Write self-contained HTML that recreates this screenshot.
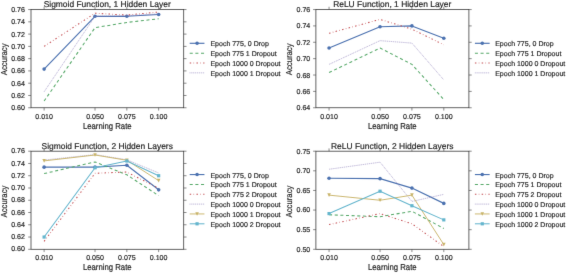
<!DOCTYPE html>
<html><head><meta charset="utf-8"><title>Accuracy vs Learning Rate</title>
<style>html,body{margin:0;padding:0;background:#fff;}svg{display:block;}text{stroke:#262626;stroke-width:0.18px;}</style></head>
<body>
<svg width="567" height="273" viewBox="0 0 567 273" font-family='"Liberation Sans", sans-serif' fill="#262626" style="text-rendering:geometricPrecision">
<rect width="567" height="273" fill="#fff"/>
<defs><filter id="soft" filterUnits="userSpaceOnUse" x="0" y="0" width="567" height="273" color-interpolation-filters="sRGB"><feConvolveMatrix order="3" kernelMatrix="0.0052 0.0619 0.0052 0.0619 0.7314 0.0619 0.0052 0.0619 0.0052" divisor="1" edgeMode="none" preserveAlpha="false"/></filter></defs>
<g filter="url(#soft)"><polyline points="44.12,69.08 95.03,16.30 126.84,16.30 158.65,14.46" fill="none" stroke="#4C72B0" stroke-width="1.15" stroke-linejoin="round"/>
<circle cx="44.12" cy="69.08" r="1.80" fill="#4C72B0"/>
<circle cx="95.03" cy="16.30" r="1.80" fill="#4C72B0"/>
<circle cx="126.84" cy="16.30" r="1.80" fill="#4C72B0"/>
<circle cx="158.65" cy="14.46" r="1.80" fill="#4C72B0"/>
<polyline points="44.12,101.00 95.03,27.66 126.84,22.44 158.65,18.76" fill="none" stroke="#55A868" stroke-width="1.05" stroke-linejoin="round" stroke-dasharray="3.05 2.6"/>
<polyline points="44.12,46.38 95.03,13.23 126.84,15.07 158.65,12.00" fill="none" stroke="#C44E52" stroke-width="1.05" stroke-linejoin="round" stroke-dasharray="1.5 2.35 0.55 2.35"/>
<polyline points="44.12,91.79 95.03,16.30 126.84,15.69 158.65,13.85" fill="none" stroke="#8172B2" stroke-width="0.8" stroke-opacity="0.2" stroke-linejoin="round"/>
<polyline points="44.12,91.79 95.03,16.30 126.84,15.69 158.65,13.85" fill="none" stroke="#8172B2" stroke-width="0.9" stroke-opacity="0.8" stroke-linejoin="round" stroke-dasharray="0.5 1.43"/>
<rect x="31.0" y="9.55" width="152.70" height="98.20" fill="none" stroke="#3c3c3c" stroke-width="0.8"/>
<line x1="44.12" y1="107.75" x2="44.12" y2="110.55" stroke="#3c3c3c" stroke-width="0.6"/>
<line x1="44.12" y1="9.55" x2="44.12" y2="6.750000000000001" stroke="#3c3c3c" stroke-width="0.6"/>
<text x="44.12" y="119.25" font-size="7.05" text-anchor="middle">0.010</text>
<line x1="95.03" y1="107.75" x2="95.03" y2="110.55" stroke="#3c3c3c" stroke-width="0.6"/>
<line x1="95.03" y1="9.55" x2="95.03" y2="6.750000000000001" stroke="#3c3c3c" stroke-width="0.6"/>
<text x="95.03" y="119.25" font-size="7.05" text-anchor="middle">0.050</text>
<line x1="126.84" y1="107.75" x2="126.84" y2="110.55" stroke="#3c3c3c" stroke-width="0.6"/>
<line x1="126.84" y1="9.55" x2="126.84" y2="6.750000000000001" stroke="#3c3c3c" stroke-width="0.6"/>
<text x="126.84" y="119.25" font-size="7.05" text-anchor="middle">0.075</text>
<line x1="158.65" y1="107.75" x2="158.65" y2="110.55" stroke="#3c3c3c" stroke-width="0.6"/>
<line x1="158.65" y1="9.55" x2="158.65" y2="6.750000000000001" stroke="#3c3c3c" stroke-width="0.6"/>
<text x="158.65" y="119.25" font-size="7.05" text-anchor="middle">0.100</text>
<line x1="31.0" y1="107.75" x2="28.2" y2="107.75" stroke="#3c3c3c" stroke-width="0.6"/>
<line x1="183.7" y1="107.75" x2="186.5" y2="107.75" stroke="#3c3c3c" stroke-width="0.6"/>
<text x="24.90" y="110.25" font-size="7.05" text-anchor="end">0.60</text>
<line x1="31.0" y1="95.47" x2="28.2" y2="95.47" stroke="#3c3c3c" stroke-width="0.6"/>
<line x1="183.7" y1="95.47" x2="186.5" y2="95.47" stroke="#3c3c3c" stroke-width="0.6"/>
<text x="24.90" y="97.97" font-size="7.05" text-anchor="end">0.62</text>
<line x1="31.0" y1="83.20" x2="28.2" y2="83.20" stroke="#3c3c3c" stroke-width="0.6"/>
<line x1="183.7" y1="83.20" x2="186.5" y2="83.20" stroke="#3c3c3c" stroke-width="0.6"/>
<text x="24.90" y="85.70" font-size="7.05" text-anchor="end">0.64</text>
<line x1="31.0" y1="70.92" x2="28.2" y2="70.92" stroke="#3c3c3c" stroke-width="0.6"/>
<line x1="183.7" y1="70.92" x2="186.5" y2="70.92" stroke="#3c3c3c" stroke-width="0.6"/>
<text x="24.90" y="73.42" font-size="7.05" text-anchor="end">0.66</text>
<line x1="31.0" y1="58.65" x2="28.2" y2="58.65" stroke="#3c3c3c" stroke-width="0.6"/>
<line x1="183.7" y1="58.65" x2="186.5" y2="58.65" stroke="#3c3c3c" stroke-width="0.6"/>
<text x="24.90" y="61.15" font-size="7.05" text-anchor="end">0.68</text>
<line x1="31.0" y1="46.38" x2="28.2" y2="46.38" stroke="#3c3c3c" stroke-width="0.6"/>
<line x1="183.7" y1="46.38" x2="186.5" y2="46.38" stroke="#3c3c3c" stroke-width="0.6"/>
<text x="24.90" y="48.88" font-size="7.05" text-anchor="end">0.70</text>
<line x1="31.0" y1="34.10" x2="28.2" y2="34.10" stroke="#3c3c3c" stroke-width="0.6"/>
<line x1="183.7" y1="34.10" x2="186.5" y2="34.10" stroke="#3c3c3c" stroke-width="0.6"/>
<text x="24.90" y="36.60" font-size="7.05" text-anchor="end">0.72</text>
<line x1="31.0" y1="21.83" x2="28.2" y2="21.83" stroke="#3c3c3c" stroke-width="0.6"/>
<line x1="183.7" y1="21.83" x2="186.5" y2="21.83" stroke="#3c3c3c" stroke-width="0.6"/>
<text x="24.90" y="24.33" font-size="7.05" text-anchor="end">0.74</text>
<line x1="31.0" y1="9.55" x2="28.2" y2="9.55" stroke="#3c3c3c" stroke-width="0.6"/>
<line x1="183.7" y1="9.55" x2="186.5" y2="9.55" stroke="#3c3c3c" stroke-width="0.6"/>
<text x="24.90" y="12.05" font-size="7.05" text-anchor="end">0.76</text>
<text transform="translate(107.25 128.95) scale(1 1.12)" font-size="7.75" text-anchor="middle">Learning Rate</text>
<text transform="translate(6.80 59.35) rotate(-90) scale(1 1.12)" font-size="7.75" text-anchor="middle">Accuracy</text>
<text x="107.20" y="7.10" font-size="8.45" text-anchor="middle">Sigmoid Function, 1 Hidden Layer</text>
<line x1="189.70" y1="43.30" x2="204.45" y2="43.30" stroke="#4C72B0" stroke-width="1.15"/>
<circle cx="197.07" cy="43.30" r="1.80" fill="#4C72B0"/>
<text x="210.45" y="46.00" font-size="7.0">Epoch 775, 0 Drop</text>
<line x1="189.70" y1="53.15" x2="204.45" y2="53.15" stroke="#55A868" stroke-width="1.05" stroke-dasharray="3.05 2.6"/>
<text x="210.45" y="55.85" font-size="7.0">Epoch 775 1 Dropout</text>
<line x1="189.70" y1="63.00" x2="204.45" y2="63.00" stroke="#C44E52" stroke-width="1.05" stroke-dasharray="1.5 2.35 0.55 2.35"/>
<text x="210.45" y="65.70" font-size="7.0">Epoch 1000 0 Dropout</text>
<line x1="189.70" y1="72.85" x2="204.45" y2="72.85" stroke="#8172B2" stroke-width="0.8" stroke-opacity="0.2"/>
<line x1="189.70" y1="72.85" x2="204.45" y2="72.85" stroke="#8172B2" stroke-width="0.9" stroke-opacity="0.8" stroke-dasharray="0.5 1.43"/>
<text x="210.45" y="75.55" font-size="7.0">Epoch 1000 1 Dropout</text></g>
<g filter="url(#soft)"><polyline points="329.05,48.01 380.05,26.74 411.92,25.92 443.80,38.19" fill="none" stroke="#4C72B0" stroke-width="1.15" stroke-linejoin="round"/>
<circle cx="329.05" cy="48.01" r="1.80" fill="#4C72B0"/>
<circle cx="380.05" cy="26.74" r="1.80" fill="#4C72B0"/>
<circle cx="411.92" cy="25.92" r="1.80" fill="#4C72B0"/>
<circle cx="443.80" cy="38.19" r="1.80" fill="#4C72B0"/>
<polyline points="329.05,72.56 380.05,48.01 411.92,64.38 443.80,99.57" fill="none" stroke="#55A868" stroke-width="1.05" stroke-linejoin="round" stroke-dasharray="3.05 2.6"/>
<polyline points="329.05,33.28 380.05,19.37 411.92,29.19 443.80,44.74" fill="none" stroke="#C44E52" stroke-width="1.05" stroke-linejoin="round" stroke-dasharray="1.5 2.35 0.55 2.35"/>
<polyline points="329.05,64.38 380.05,40.65 411.92,43.10 443.80,79.93" fill="none" stroke="#8172B2" stroke-width="0.8" stroke-opacity="0.2" stroke-linejoin="round"/>
<polyline points="329.05,64.38 380.05,40.65 411.92,43.10 443.80,79.93" fill="none" stroke="#8172B2" stroke-width="0.9" stroke-opacity="0.8" stroke-linejoin="round" stroke-dasharray="0.5 1.43"/>
<rect x="315.9" y="9.55" width="153.00" height="98.20" fill="none" stroke="#3c3c3c" stroke-width="0.8"/>
<line x1="329.05" y1="107.75" x2="329.05" y2="110.55" stroke="#3c3c3c" stroke-width="0.6"/>
<line x1="329.05" y1="9.55" x2="329.05" y2="6.750000000000001" stroke="#3c3c3c" stroke-width="0.6"/>
<text x="329.05" y="119.25" font-size="7.05" text-anchor="middle">0.010</text>
<line x1="380.05" y1="107.75" x2="380.05" y2="110.55" stroke="#3c3c3c" stroke-width="0.6"/>
<line x1="380.05" y1="9.55" x2="380.05" y2="6.750000000000001" stroke="#3c3c3c" stroke-width="0.6"/>
<text x="380.05" y="119.25" font-size="7.05" text-anchor="middle">0.050</text>
<line x1="411.92" y1="107.75" x2="411.92" y2="110.55" stroke="#3c3c3c" stroke-width="0.6"/>
<line x1="411.92" y1="9.55" x2="411.92" y2="6.750000000000001" stroke="#3c3c3c" stroke-width="0.6"/>
<text x="411.92" y="119.25" font-size="7.05" text-anchor="middle">0.075</text>
<line x1="443.80" y1="107.75" x2="443.80" y2="110.55" stroke="#3c3c3c" stroke-width="0.6"/>
<line x1="443.80" y1="9.55" x2="443.80" y2="6.750000000000001" stroke="#3c3c3c" stroke-width="0.6"/>
<text x="443.80" y="119.25" font-size="7.05" text-anchor="middle">0.100</text>
<line x1="315.9" y1="107.75" x2="313.09999999999997" y2="107.75" stroke="#3c3c3c" stroke-width="0.6"/>
<line x1="468.9" y1="107.75" x2="471.7" y2="107.75" stroke="#3c3c3c" stroke-width="0.6"/>
<text x="310.25" y="110.25" font-size="7.05" text-anchor="end">0.64</text>
<line x1="315.9" y1="91.38" x2="313.09999999999997" y2="91.38" stroke="#3c3c3c" stroke-width="0.6"/>
<line x1="468.9" y1="91.38" x2="471.7" y2="91.38" stroke="#3c3c3c" stroke-width="0.6"/>
<text x="310.25" y="93.88" font-size="7.05" text-anchor="end">0.66</text>
<line x1="315.9" y1="75.02" x2="313.09999999999997" y2="75.02" stroke="#3c3c3c" stroke-width="0.6"/>
<line x1="468.9" y1="75.02" x2="471.7" y2="75.02" stroke="#3c3c3c" stroke-width="0.6"/>
<text x="310.25" y="77.52" font-size="7.05" text-anchor="end">0.68</text>
<line x1="315.9" y1="58.65" x2="313.09999999999997" y2="58.65" stroke="#3c3c3c" stroke-width="0.6"/>
<line x1="468.9" y1="58.65" x2="471.7" y2="58.65" stroke="#3c3c3c" stroke-width="0.6"/>
<text x="310.25" y="61.15" font-size="7.05" text-anchor="end">0.70</text>
<line x1="315.9" y1="42.28" x2="313.09999999999997" y2="42.28" stroke="#3c3c3c" stroke-width="0.6"/>
<line x1="468.9" y1="42.28" x2="471.7" y2="42.28" stroke="#3c3c3c" stroke-width="0.6"/>
<text x="310.25" y="44.78" font-size="7.05" text-anchor="end">0.72</text>
<line x1="315.9" y1="25.92" x2="313.09999999999997" y2="25.92" stroke="#3c3c3c" stroke-width="0.6"/>
<line x1="468.9" y1="25.92" x2="471.7" y2="25.92" stroke="#3c3c3c" stroke-width="0.6"/>
<text x="310.25" y="28.42" font-size="7.05" text-anchor="end">0.74</text>
<line x1="315.9" y1="9.55" x2="313.09999999999997" y2="9.55" stroke="#3c3c3c" stroke-width="0.6"/>
<line x1="468.9" y1="9.55" x2="471.7" y2="9.55" stroke="#3c3c3c" stroke-width="0.6"/>
<text x="310.25" y="12.05" font-size="7.05" text-anchor="end">0.76</text>
<text transform="translate(392.30 128.95) scale(1 1.12)" font-size="7.75" text-anchor="middle">Learning Rate</text>
<text transform="translate(291.70 59.35) rotate(-90) scale(1 1.12)" font-size="7.75" text-anchor="middle">Accuracy</text>
<text x="392.25" y="7.10" font-size="8.45" text-anchor="middle">ReLU Function, 1 Hidden Layer</text>
<line x1="474.90" y1="43.30" x2="489.65" y2="43.30" stroke="#4C72B0" stroke-width="1.15"/>
<circle cx="482.27" cy="43.30" r="1.80" fill="#4C72B0"/>
<text x="495.20" y="46.00" font-size="7.0">Epoch 775, 0 Drop</text>
<line x1="474.90" y1="53.15" x2="489.65" y2="53.15" stroke="#55A868" stroke-width="1.05" stroke-dasharray="3.05 2.6"/>
<text x="495.20" y="55.85" font-size="7.0">Epoch 775 1 Dropout</text>
<line x1="474.90" y1="63.00" x2="489.65" y2="63.00" stroke="#C44E52" stroke-width="1.05" stroke-dasharray="1.5 2.35 0.55 2.35"/>
<text x="495.20" y="65.70" font-size="7.0">Epoch 1000 0 Dropout</text>
<line x1="474.90" y1="72.85" x2="489.65" y2="72.85" stroke="#8172B2" stroke-width="0.8" stroke-opacity="0.2"/>
<line x1="474.90" y1="72.85" x2="489.65" y2="72.85" stroke="#8172B2" stroke-width="0.9" stroke-opacity="0.8" stroke-dasharray="0.5 1.43"/>
<text x="495.20" y="75.55" font-size="7.0">Epoch 1000 1 Dropout</text></g>
<g filter="url(#soft)"><polyline points="44.12,167.14 95.03,167.14 126.84,165.30 158.65,189.83" fill="none" stroke="#4C72B0" stroke-width="1.15" stroke-linejoin="round"/>
<circle cx="44.12" cy="167.14" r="1.80" fill="#4C72B0"/>
<circle cx="95.03" cy="167.14" r="1.80" fill="#4C72B0"/>
<circle cx="126.84" cy="165.30" r="1.80" fill="#4C72B0"/>
<circle cx="158.65" cy="189.83" r="1.80" fill="#4C72B0"/>
<polyline points="44.12,173.58 95.03,161.93 126.84,174.81 158.65,195.65" fill="none" stroke="#55A868" stroke-width="1.05" stroke-linejoin="round" stroke-dasharray="3.05 2.6"/>
<polyline points="44.12,241.33 95.03,173.27 126.84,172.05 158.65,188.29" fill="none" stroke="#C44E52" stroke-width="1.05" stroke-linejoin="round" stroke-dasharray="1.5 2.35 0.55 2.35"/>
<polyline points="44.12,160.09 95.03,154.57 126.84,159.78 158.65,172.97" fill="none" stroke="#8172B2" stroke-width="0.8" stroke-opacity="0.2" stroke-linejoin="round"/>
<polyline points="44.12,160.09 95.03,154.57 126.84,159.78 158.65,172.97" fill="none" stroke="#8172B2" stroke-width="0.9" stroke-opacity="0.8" stroke-linejoin="round" stroke-dasharray="0.5 1.43"/>
<polyline points="44.12,160.89 95.03,155.00 126.84,160.27 158.65,180.63" fill="none" stroke="#C9B46A" stroke-width="0.95" stroke-linejoin="round"/>
<path d="M42.33 159.09L45.92 159.09L44.12 162.69Z" fill="#C9B46A"/>
<path d="M93.23 153.20L96.83 153.20L95.03 156.80Z" fill="#C9B46A"/>
<path d="M125.04 158.47L128.64 158.47L126.84 162.07Z" fill="#C9B46A"/>
<path d="M156.85 178.83L160.45 178.83L158.65 182.43Z" fill="#C9B46A"/>
<polyline points="44.12,237.04 95.03,167.75 126.84,161.01 158.65,175.73" fill="none" stroke="#64B5CD" stroke-width="1.05" stroke-linejoin="round"/>
<rect x="42.52" y="235.44" width="3.20" height="3.20" fill="#64B5CD"/>
<rect x="93.43" y="166.15" width="3.20" height="3.20" fill="#64B5CD"/>
<rect x="125.24" y="159.41" width="3.20" height="3.20" fill="#64B5CD"/>
<rect x="157.05" y="174.13" width="3.20" height="3.20" fill="#64B5CD"/>
<rect x="31.0" y="151.2" width="152.70" height="98.10" fill="none" stroke="#3c3c3c" stroke-width="0.8"/>
<line x1="44.12" y1="249.3" x2="44.12" y2="252.10000000000002" stroke="#3c3c3c" stroke-width="0.6"/>
<line x1="44.12" y1="151.2" x2="44.12" y2="148.39999999999998" stroke="#3c3c3c" stroke-width="0.6"/>
<text x="44.12" y="260.35" font-size="7.05" text-anchor="middle">0.010</text>
<line x1="95.03" y1="249.3" x2="95.03" y2="252.10000000000002" stroke="#3c3c3c" stroke-width="0.6"/>
<line x1="95.03" y1="151.2" x2="95.03" y2="148.39999999999998" stroke="#3c3c3c" stroke-width="0.6"/>
<text x="95.03" y="260.35" font-size="7.05" text-anchor="middle">0.050</text>
<line x1="126.84" y1="249.3" x2="126.84" y2="252.10000000000002" stroke="#3c3c3c" stroke-width="0.6"/>
<line x1="126.84" y1="151.2" x2="126.84" y2="148.39999999999998" stroke="#3c3c3c" stroke-width="0.6"/>
<text x="126.84" y="260.35" font-size="7.05" text-anchor="middle">0.075</text>
<line x1="158.65" y1="249.3" x2="158.65" y2="252.10000000000002" stroke="#3c3c3c" stroke-width="0.6"/>
<line x1="158.65" y1="151.2" x2="158.65" y2="148.39999999999998" stroke="#3c3c3c" stroke-width="0.6"/>
<text x="158.65" y="260.35" font-size="7.05" text-anchor="middle">0.100</text>
<line x1="31.0" y1="249.30" x2="28.2" y2="249.30" stroke="#3c3c3c" stroke-width="0.6"/>
<line x1="183.7" y1="249.30" x2="186.5" y2="249.30" stroke="#3c3c3c" stroke-width="0.6"/>
<text x="24.90" y="251.35" font-size="7.05" text-anchor="end">0.60</text>
<line x1="31.0" y1="237.04" x2="28.2" y2="237.04" stroke="#3c3c3c" stroke-width="0.6"/>
<line x1="183.7" y1="237.04" x2="186.5" y2="237.04" stroke="#3c3c3c" stroke-width="0.6"/>
<text x="24.90" y="239.09" font-size="7.05" text-anchor="end">0.62</text>
<line x1="31.0" y1="224.77" x2="28.2" y2="224.77" stroke="#3c3c3c" stroke-width="0.6"/>
<line x1="183.7" y1="224.77" x2="186.5" y2="224.77" stroke="#3c3c3c" stroke-width="0.6"/>
<text x="24.90" y="226.82" font-size="7.05" text-anchor="end">0.64</text>
<line x1="31.0" y1="212.51" x2="28.2" y2="212.51" stroke="#3c3c3c" stroke-width="0.6"/>
<line x1="183.7" y1="212.51" x2="186.5" y2="212.51" stroke="#3c3c3c" stroke-width="0.6"/>
<text x="24.90" y="214.56" font-size="7.05" text-anchor="end">0.66</text>
<line x1="31.0" y1="200.25" x2="28.2" y2="200.25" stroke="#3c3c3c" stroke-width="0.6"/>
<line x1="183.7" y1="200.25" x2="186.5" y2="200.25" stroke="#3c3c3c" stroke-width="0.6"/>
<text x="24.90" y="202.30" font-size="7.05" text-anchor="end">0.68</text>
<line x1="31.0" y1="187.99" x2="28.2" y2="187.99" stroke="#3c3c3c" stroke-width="0.6"/>
<line x1="183.7" y1="187.99" x2="186.5" y2="187.99" stroke="#3c3c3c" stroke-width="0.6"/>
<text x="24.90" y="190.04" font-size="7.05" text-anchor="end">0.70</text>
<line x1="31.0" y1="175.73" x2="28.2" y2="175.73" stroke="#3c3c3c" stroke-width="0.6"/>
<line x1="183.7" y1="175.73" x2="186.5" y2="175.73" stroke="#3c3c3c" stroke-width="0.6"/>
<text x="24.90" y="177.78" font-size="7.05" text-anchor="end">0.72</text>
<line x1="31.0" y1="163.46" x2="28.2" y2="163.46" stroke="#3c3c3c" stroke-width="0.6"/>
<line x1="183.7" y1="163.46" x2="186.5" y2="163.46" stroke="#3c3c3c" stroke-width="0.6"/>
<text x="24.90" y="165.51" font-size="7.05" text-anchor="end">0.74</text>
<line x1="31.0" y1="151.20" x2="28.2" y2="151.20" stroke="#3c3c3c" stroke-width="0.6"/>
<line x1="183.7" y1="151.20" x2="186.5" y2="151.20" stroke="#3c3c3c" stroke-width="0.6"/>
<text x="24.90" y="153.25" font-size="7.05" text-anchor="end">0.76</text>
<text transform="translate(107.25 269.90) scale(1 1.12)" font-size="7.75" text-anchor="middle">Learning Rate</text>
<text transform="translate(6.80 201.55) rotate(-90) scale(1 1.12)" font-size="7.75" text-anchor="middle">Accuracy</text>
<text x="107.20" y="148.90" font-size="8.45" text-anchor="middle">Sigmoid Function, 2 Hidden Layers</text>
<line x1="189.70" y1="174.55" x2="204.45" y2="174.55" stroke="#4C72B0" stroke-width="1.15"/>
<circle cx="197.07" cy="174.55" r="1.80" fill="#4C72B0"/>
<text x="210.45" y="177.50" font-size="7.0">Epoch 775, 0 Drop</text>
<line x1="189.70" y1="184.40" x2="204.45" y2="184.40" stroke="#55A868" stroke-width="1.05" stroke-dasharray="3.05 2.6"/>
<text x="210.45" y="187.35" font-size="7.0">Epoch 775 1 Dropout</text>
<line x1="189.70" y1="194.25" x2="204.45" y2="194.25" stroke="#C44E52" stroke-width="1.05" stroke-dasharray="1.5 2.35 0.55 2.35"/>
<text x="210.45" y="197.20" font-size="7.0">Epoch 775 2 Dropout</text>
<line x1="189.70" y1="204.10" x2="204.45" y2="204.10" stroke="#8172B2" stroke-width="0.8" stroke-opacity="0.2"/>
<line x1="189.70" y1="204.10" x2="204.45" y2="204.10" stroke="#8172B2" stroke-width="0.9" stroke-opacity="0.8" stroke-dasharray="0.5 1.43"/>
<text x="210.45" y="207.05" font-size="7.0">Epoch 1000 0 Dropout</text>
<line x1="189.70" y1="213.95" x2="204.45" y2="213.95" stroke="#C9B46A" stroke-width="0.95"/>
<path d="M195.27 212.15L198.88 212.15L197.07 215.75Z" fill="#C9B46A"/>
<text x="210.45" y="216.90" font-size="7.0">Epoch 1000 1 Dropout</text>
<line x1="189.70" y1="223.80" x2="204.45" y2="223.80" stroke="#64B5CD" stroke-width="1.05"/>
<rect x="195.47" y="222.20" width="3.20" height="3.20" fill="#64B5CD"/>
<text x="210.45" y="226.75" font-size="7.0">Epoch 1000 2 Dropout</text></g>
<g filter="url(#soft)"><polyline points="329.05,178.28 380.05,178.67 411.92,188.09 443.80,203.39" fill="none" stroke="#4C72B0" stroke-width="1.15" stroke-linejoin="round"/>
<circle cx="329.05" cy="178.28" r="1.80" fill="#4C72B0"/>
<circle cx="380.05" cy="178.67" r="1.80" fill="#4C72B0"/>
<circle cx="411.92" cy="188.09" r="1.80" fill="#4C72B0"/>
<circle cx="443.80" cy="203.39" r="1.80" fill="#4C72B0"/>
<polyline points="329.05,214.77 380.05,216.73 411.92,211.24 443.80,228.50" fill="none" stroke="#55A868" stroke-width="1.05" stroke-linejoin="round" stroke-dasharray="3.05 2.6"/>
<polyline points="329.05,224.58 380.05,213.59 411.92,223.79 443.80,246.55" fill="none" stroke="#C44E52" stroke-width="1.05" stroke-linejoin="round" stroke-dasharray="1.5 2.35 0.55 2.35"/>
<polyline points="329.05,169.25 380.05,162.19 411.92,201.43 443.80,194.36" fill="none" stroke="#8172B2" stroke-width="0.8" stroke-opacity="0.2" stroke-linejoin="round"/>
<polyline points="329.05,169.25 380.05,162.19 411.92,201.43 443.80,194.36" fill="none" stroke="#8172B2" stroke-width="0.9" stroke-opacity="0.8" stroke-linejoin="round" stroke-dasharray="0.5 1.43"/>
<polyline points="329.05,195.15 380.05,200.25 411.92,195.15 443.80,244.59" fill="none" stroke="#C9B46A" stroke-width="0.95" stroke-linejoin="round"/>
<path d="M327.25 193.35L330.85 193.35L329.05 196.95Z" fill="#C9B46A"/>
<path d="M378.25 198.45L381.85 198.45L380.05 202.05Z" fill="#C9B46A"/>
<path d="M410.12 193.35L413.72 193.35L411.92 196.95Z" fill="#C9B46A"/>
<path d="M442.00 242.79L445.60 242.79L443.80 246.39Z" fill="#C9B46A"/>
<polyline points="329.05,213.59 380.05,191.22 411.92,205.74 443.80,219.87" fill="none" stroke="#64B5CD" stroke-width="1.05" stroke-linejoin="round"/>
<rect x="327.45" y="211.99" width="3.20" height="3.20" fill="#64B5CD"/>
<rect x="378.45" y="189.62" width="3.20" height="3.20" fill="#64B5CD"/>
<rect x="410.32" y="204.14" width="3.20" height="3.20" fill="#64B5CD"/>
<rect x="442.20" y="218.27" width="3.20" height="3.20" fill="#64B5CD"/>
<rect x="315.9" y="151.2" width="153.00" height="98.10" fill="none" stroke="#3c3c3c" stroke-width="0.8"/>
<line x1="329.05" y1="249.3" x2="329.05" y2="252.10000000000002" stroke="#3c3c3c" stroke-width="0.6"/>
<line x1="329.05" y1="151.2" x2="329.05" y2="148.39999999999998" stroke="#3c3c3c" stroke-width="0.6"/>
<text x="329.05" y="260.35" font-size="7.05" text-anchor="middle">0.010</text>
<line x1="380.05" y1="249.3" x2="380.05" y2="252.10000000000002" stroke="#3c3c3c" stroke-width="0.6"/>
<line x1="380.05" y1="151.2" x2="380.05" y2="148.39999999999998" stroke="#3c3c3c" stroke-width="0.6"/>
<text x="380.05" y="260.35" font-size="7.05" text-anchor="middle">0.050</text>
<line x1="411.92" y1="249.3" x2="411.92" y2="252.10000000000002" stroke="#3c3c3c" stroke-width="0.6"/>
<line x1="411.92" y1="151.2" x2="411.92" y2="148.39999999999998" stroke="#3c3c3c" stroke-width="0.6"/>
<text x="411.92" y="260.35" font-size="7.05" text-anchor="middle">0.075</text>
<line x1="443.80" y1="249.3" x2="443.80" y2="252.10000000000002" stroke="#3c3c3c" stroke-width="0.6"/>
<line x1="443.80" y1="151.2" x2="443.80" y2="148.39999999999998" stroke="#3c3c3c" stroke-width="0.6"/>
<text x="443.80" y="260.35" font-size="7.05" text-anchor="middle">0.100</text>
<line x1="315.9" y1="249.30" x2="313.09999999999997" y2="249.30" stroke="#3c3c3c" stroke-width="0.6"/>
<line x1="468.9" y1="249.30" x2="471.7" y2="249.30" stroke="#3c3c3c" stroke-width="0.6"/>
<text x="310.25" y="251.65" font-size="7.05" text-anchor="end">0.50</text>
<line x1="315.9" y1="229.68" x2="313.09999999999997" y2="229.68" stroke="#3c3c3c" stroke-width="0.6"/>
<line x1="468.9" y1="229.68" x2="471.7" y2="229.68" stroke="#3c3c3c" stroke-width="0.6"/>
<text x="310.25" y="232.03" font-size="7.05" text-anchor="end">0.55</text>
<line x1="315.9" y1="210.06" x2="313.09999999999997" y2="210.06" stroke="#3c3c3c" stroke-width="0.6"/>
<line x1="468.9" y1="210.06" x2="471.7" y2="210.06" stroke="#3c3c3c" stroke-width="0.6"/>
<text x="310.25" y="212.41" font-size="7.05" text-anchor="end">0.60</text>
<line x1="315.9" y1="190.44" x2="313.09999999999997" y2="190.44" stroke="#3c3c3c" stroke-width="0.6"/>
<line x1="468.9" y1="190.44" x2="471.7" y2="190.44" stroke="#3c3c3c" stroke-width="0.6"/>
<text x="310.25" y="192.79" font-size="7.05" text-anchor="end">0.65</text>
<line x1="315.9" y1="170.82" x2="313.09999999999997" y2="170.82" stroke="#3c3c3c" stroke-width="0.6"/>
<line x1="468.9" y1="170.82" x2="471.7" y2="170.82" stroke="#3c3c3c" stroke-width="0.6"/>
<text x="310.25" y="173.17" font-size="7.05" text-anchor="end">0.70</text>
<line x1="315.9" y1="151.20" x2="313.09999999999997" y2="151.20" stroke="#3c3c3c" stroke-width="0.6"/>
<line x1="468.9" y1="151.20" x2="471.7" y2="151.20" stroke="#3c3c3c" stroke-width="0.6"/>
<text x="310.25" y="153.55" font-size="7.05" text-anchor="end">0.75</text>
<text transform="translate(392.30 269.90) scale(1 1.12)" font-size="7.75" text-anchor="middle">Learning Rate</text>
<text transform="translate(291.70 201.55) rotate(-90) scale(1 1.12)" font-size="7.75" text-anchor="middle">Accuracy</text>
<text x="392.25" y="148.90" font-size="8.45" text-anchor="middle">ReLU Function, 2 Hidden Layers</text>
<line x1="474.90" y1="174.55" x2="489.65" y2="174.55" stroke="#4C72B0" stroke-width="1.15"/>
<circle cx="482.27" cy="174.55" r="1.80" fill="#4C72B0"/>
<text x="495.20" y="177.50" font-size="7.0">Epoch 775, 0 Drop</text>
<line x1="474.90" y1="184.40" x2="489.65" y2="184.40" stroke="#55A868" stroke-width="1.05" stroke-dasharray="3.05 2.6"/>
<text x="495.20" y="187.35" font-size="7.0">Epoch 775 1 Dropout</text>
<line x1="474.90" y1="194.25" x2="489.65" y2="194.25" stroke="#C44E52" stroke-width="1.05" stroke-dasharray="1.5 2.35 0.55 2.35"/>
<text x="495.20" y="197.20" font-size="7.0">Epoch 775 2 Dropout</text>
<line x1="474.90" y1="204.10" x2="489.65" y2="204.10" stroke="#8172B2" stroke-width="0.8" stroke-opacity="0.2"/>
<line x1="474.90" y1="204.10" x2="489.65" y2="204.10" stroke="#8172B2" stroke-width="0.9" stroke-opacity="0.8" stroke-dasharray="0.5 1.43"/>
<text x="495.20" y="207.05" font-size="7.0">Epoch 1000 0 Dropout</text>
<line x1="474.90" y1="213.95" x2="489.65" y2="213.95" stroke="#C9B46A" stroke-width="0.95"/>
<path d="M480.47 212.15L484.07 212.15L482.27 215.75Z" fill="#C9B46A"/>
<text x="495.20" y="216.90" font-size="7.0">Epoch 1000 1 Dropout</text>
<line x1="474.90" y1="223.80" x2="489.65" y2="223.80" stroke="#64B5CD" stroke-width="1.05"/>
<rect x="480.67" y="222.20" width="3.20" height="3.20" fill="#64B5CD"/>
<text x="495.20" y="226.75" font-size="7.0">Epoch 1000 2 Dropout</text></g>
</svg>
</body></html>
